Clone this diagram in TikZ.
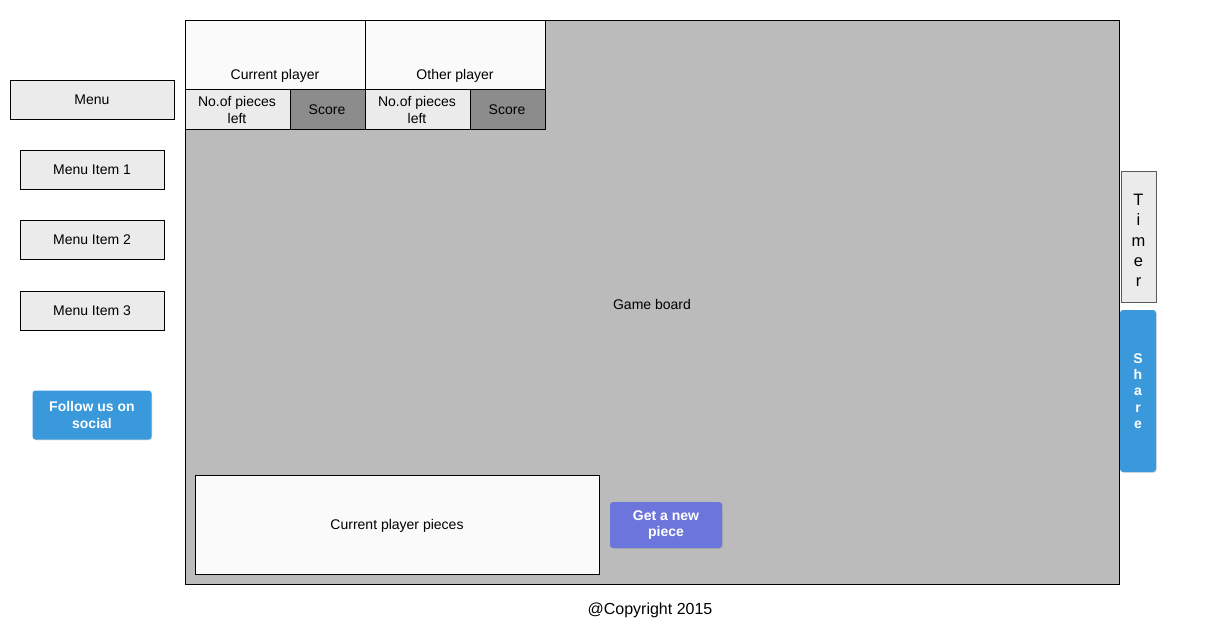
\documentclass[tikz,border=0pt]{standalone}
\usepackage{fontspec}
\setmainfont{Liberation Sans}
\usetikzlibrary{positioning, shadows}
\definecolor{boardgray}{RGB}{187,187,187}
\definecolor{paneled}{RGB}{250,250,250}
\definecolor{lightbox}{RGB}{235,235,235}
\definecolor{scoregray}{RGB}{140,140,140}
\definecolor{socialblue}{RGB}{58,153,219}
\definecolor{pieceblue}{RGB}{108,117,219}
\definecolor{timeredge}{RGB}{90,90,90}
\tikzset{
    box/.style={draw=black, line width=0.8pt, inner sep=0pt, font=\fontsize{14}{16}\selectfont},
    label/.style={font=\fontsize{14}{17}\selectfont, align=center},
    button/.style={rounded corners=3pt, inner sep=0pt, text=white, align=center,
        font=\fontsize{14}{16.5}\selectfont\bfseries, drop shadow={shadow xshift=0.8pt, shadow yshift=-0.8pt, opacity=0.25}}
}

\begin{document}
\begin{tikzpicture}[x=1pt, y=-1pt]
    \useasboundingbox (0,0) rectangle (1224,642);

    % Game board
    \draw[box, fill=boardgray] (185,20) rectangle (1119,584);
    \node[label] (board) at (652,304) {Game board};

    % Player panels
    \draw[box, fill=paneled] (185,20) rectangle (365,89);
    \draw[box, fill=paneled] (365,20) rectangle (545,89);
    \node[label] (curplayer) at (275,76) {Current player};
    \node[label] (othplayer) at (455,76) {Other player};
    \foreach \x/\n in {185/curleft, 365/othleft} {
        \draw[box, fill=lightbox] (\x,89) rectangle (\x+105,129);
        \draw[box, fill=scoregray] (\x+105,89) rectangle (\x+180,129);
        \node[label] (\n) at (\x+52,110) {No.of pieces\\left};
        \node[label] at (\x+142,110) {Score};
    }

    % Menu
    \node[box, fill=lightbox, minimum width=164pt, minimum height=39pt] (menu) at (92,100) {Menu};
    \foreach \i/\y in {1/170, 2/240, 3/311} {
        \node[box, fill=lightbox, minimum width=144pt, minimum height=39pt] (item\i) at (92,\y) {Menu Item \i};
    }
    \node[button, fill=socialblue, minimum width=119pt, minimum height=49pt] (social) at (92,415) {Follow us on\\social};

    % Timer and share
    \node[draw=timeredge, line width=0.8pt, fill=lightbox, minimum width=35pt, minimum height=131pt, inner sep=0pt] (timer) at (1138.5,236.5) {};
    \node[align=center, font=\fontsize{16.5}{20.3}\selectfont] (timertext) at ([yshift=-4pt]timer.center) {T\\i\\m\\e\\r};
    \node[button, fill=socialblue, minimum width=36pt, minimum height=162pt,
        font=\fontsize{14}{16.3}\selectfont\bfseries] (share) at (1138,391) {S\\h\\a\\r\\e};

    % Pieces
    \draw[box, fill=paneled] (195,475) rectangle (599,574);
    \node[label] (pieces) at (397,526) {Current player pieces};
    \node[button, fill=pieceblue, minimum width=112pt, minimum height=46pt] (newpiece) at (666,525) {Get a new\\piece};

    \node[font=\fontsize{16}{19}\selectfont] (copy) at (650,610) {@Copyright 2015};
\end{tikzpicture}
\end{document}
